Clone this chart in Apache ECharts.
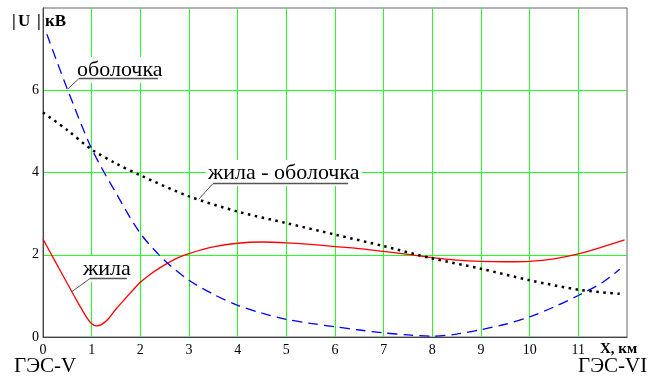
<!DOCTYPE html>
<html><head><meta charset="utf-8">
<script src="https://cdn.jsdelivr.net/npm/echarts@6/dist/echarts.min.js"></script>
<style>html,body{margin:0;padding:0;background:#fff}#c{width:654px;height:376px}</style>
</head><body><div id="c"></div>
<script>
// --- data ---
var xTicks = [0,1,2,3,4,5,6,7,8,9,10,11];
var yTicks = [0,2,4,6];
var coreX = [0,0.25,0.5,0.75,0.9,1.0,1.1,1.2,1.35,1.5,1.65,1.8,2,2.2,2.4,2.6,2.8,3,3.5,4,4.5,5,5.5,6,6.5,7,7.5,8,8.5,9,9.5,10,10.5,11,11.5,11.95];
var coreY = [2.38,1.84,1.3,0.77,0.47,0.32,0.27,0.3,0.45,0.68,0.88,1.08,1.33,1.52,1.68,1.82,1.94,2.03,2.19,2.28,2.31,2.29,2.25,2.2,2.15,2.08,2.01,1.93,1.87,1.84,1.83,1.84,1.9,2.02,2.19,2.36];
var sheathX = [0.08,0.5,1,1.5,2,2.5,3,3.5,4,4.5,5,5.5,6,6.5,7,7.5,8,8.5,9,9.5,10,10.5,11,11.5,11.85];
var sheathY = [7.36,6.03,4.58,3.5,2.52,1.86,1.38,1.04,0.77,0.58,0.43,0.33,0.25,0.17,0.1,0.05,0.02,0.07,0.18,0.31,0.49,0.73,1.01,1.33,1.65];
var diffX = [0,0.5,1,1.5,2,3,4,5,6,7,8,9,10,11,11.85];
var diffY = [5.46,5.03,4.56,4.22,3.93,3.42,3.05,2.77,2.49,2.21,1.91,1.66,1.38,1.15,1.05];
var labels = {core:'жила', sheath:'оболочка', diff:'жила - оболочка'};

function pairs(xs, ys){ return xs.map(function(x,i){return [x, ys[i]];}); }

var chart = echarts.init(document.getElementById('c'), null, {renderer:'canvas'});
var serif = '"Liberation Serif","Times New Roman",serif';
var green = '#22ff22';
chart.setOption({
  animation:false,
  grid:{left:43, top:8, right:27, bottom:39, show:true, borderColor:'#666', borderWidth:1, backgroundColor:'#fff'},
  xAxis:{type:'value', min:0, max:12, interval:1,
    axisLine:{lineStyle:{color:'#444', width:1}}, axisTick:{show:false},
    axisLabel:{margin:6, color:'#000', fontFamily:serif, fontSize:14,
      formatter:function(v){ return xTicks.indexOf(v) >= 0 ? String(v) : ''; }},
    splitLine:{show:true, showMinLine:false, showMaxLine:false, lineStyle:{color:green, width:1}}},
  yAxis:{type:'value', min:0, max:8, interval:2,
    axisLine:{show:true, lineStyle:{color:'#444', width:1}}, axisTick:{show:false},
    axisLabel:{margin:4, color:'#000', fontFamily:serif, fontSize:14,
      formatter:function(v){ return yTicks.indexOf(v) >= 0 ? String(v) : ''; }},
    splitLine:{show:true, showMinLine:false, showMaxLine:false, lineStyle:{color:green, width:1}}},
  series:[
    {type:'line', name:labels.core, data:pairs(coreX, coreY), smooth:0.3, symbol:'none',
      lineStyle:{color:'#ff0000', width:1.3}},
    {type:'line', name:labels.sheath, data:pairs(sheathX, sheathY), smooth:0.3, symbol:'none',
      lineStyle:{color:'#0000ff', width:1.3, type:[10,6]}},
    {type:'line', name:labels.diff, data:pairs(diffX, diffY), smooth:0.3, symbol:'none',
      lineStyle:{color:'#000', width:2.5, type:[2.5,4.5], cap:'butt'}}
  ]
});

// annotations: anchor points on curves in data coordinates
function P(x,y){ return chart.convertToPixel({gridIndex:0}, [x,y]); }
function annot(text, anchor, tx, tb, ulx1, ulx2, uly){
  var a = P(anchor[0], anchor[1]);
  return [
    {type:'text', left:tx, top:tb-19, z:10, style:{text:text, font:'22px '+serif, fill:'#000', backgroundColor:'#fff', padding:[2,2,2,2]}},
    {type:'line', z:11, shape:{x1:ulx1, y1:uly, x2:ulx2, y2:uly}, style:{stroke:'#555', lineWidth:1.5}},
    {type:'line', z:11, shape:{x1:ulx1, y1:uly, x2:a[0], y2:a[1]}, style:{stroke:'#555', lineWidth:1}}
  ];
}
var g = [];
g = g.concat(annot(labels.sheath, [0.51, 6.03], 75, 76, 79, 158, 78.5));
g = g.concat(annot(labels.core, [0.59, 1.1], 81, 275, 90, 127, 278.5));
g = g.concat(annot(labels.diff, [3.2, 3.35], 206, 179, 213, 348, 183.5));
g.push({type:'text', left:12, top:13, z:10, style:{text:'|', font:'bold 17px '+serif, fill:'#000'}});
g.push({type:'text', left:18, top:13, z:10, style:{text:'U', font:'bold 17px '+serif, fill:'#000'}});
g.push({type:'text', left:37, top:13, z:10, style:{text:'|', font:'bold 17px '+serif, fill:'#000'}});
g.push({type:'text', left:45, top:13, z:10, style:{text:'кВ', font:'bold 17px '+serif, fill:'#000'}});
g.push({type:'text', left:600, top:342, z:10, style:{text:'X, км', font:'bold 15px '+serif, fill:'#000'}});
g.push({type:'text', left:14, top:356, z:10, style:{text:'ГЭС-V', font:'21px '+serif, fill:'#000'}});
g.push({type:'text', left:578, top:356, z:10, style:{text:'ГЭС-VI', font:'21px '+serif, fill:'#000'}});
chart.setOption({graphic:g});
</script></body></html>
